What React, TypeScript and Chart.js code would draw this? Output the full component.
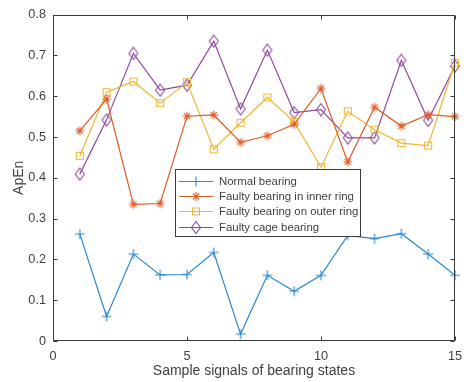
import React, { useEffect, useRef } from 'react';
import { Chart, registerables } from 'chart.js';

Chart.register(...registerables);

// ---- data ----
const samples = [1, 2, 3, 4, 5, 6, 7, 8, 9, 10, 11, 12, 13, 14, 15];
const normalBearing = [0.262, 0.06, 0.213, 0.162, 0.163, 0.217, 0.017, 0.161, 0.122, 0.161, 0.259, 0.251, 0.263, 0.213, 0.161];
const innerRing = [0.515, 0.593, 0.335, 0.337, 0.551, 0.554, 0.487, 0.503, 0.531, 0.619, 0.439, 0.573, 0.527, 0.555, 0.550];
const outerRing = [0.454, 0.610, 0.636, 0.583, 0.634, 0.470, 0.535, 0.597, 0.537, 0.426, 0.563, 0.518, 0.485, 0.479, 0.682];
const cageBearing = [0.409, 0.542, 0.705, 0.615, 0.627, 0.735, 0.569, 0.713, 0.560, 0.567, 0.498, 0.498, 0.688, 0.541, 0.674];
const seriesNames = ['Normal bearing', 'Faulty bearing in inner ring', 'Faulty bearing on outer ring', 'Faulty cage bearing'];
const xTicks = [0, 5, 10, 15];
const yTicks = [0, 0.1, 0.2, 0.3, 0.4, 0.5, 0.6, 0.7, 0.8];
const xTitle = 'Sample signals of bearing states';
const yTitle = 'ApEn';

const colors = ['#2a88d0', '#de5c28', '#efb630', '#8d4a9e'];
const markers = ['plus', 'star', 'square', 'diamond'];
const FONT = '"Liberation Sans", Arial, Helvetica, sans-serif';
const AX = '#3a3a3a';
const TXT = '#404040';

function drawMarker(ctx: CanvasRenderingContext2D, type: string, x: number, y: number, color: string) {
  ctx.save();
  ctx.strokeStyle = color;
  ctx.lineWidth = 1.1;
  ctx.beginPath();
  if (type === 'plus') {
    ctx.moveTo(x - 5, y); ctx.lineTo(x + 5, y);
    ctx.moveTo(x, y - 5); ctx.lineTo(x, y + 5);
  } else if (type === 'star') {
    const r = 4.5;
    for (let i = 0; i < 4; i++) {
      const a = (i * Math.PI) / 4;
      ctx.moveTo(x - r * Math.cos(a), y - r * Math.sin(a));
      ctx.lineTo(x + r * Math.cos(a), y + r * Math.sin(a));
    }
  } else if (type === 'square') {
    ctx.rect(x - 3.5, y - 3.5, 7, 7);
  } else {
    ctx.moveTo(x, y - 6); ctx.lineTo(x + 4.5, y); ctx.lineTo(x, y + 6); ctx.lineTo(x - 4.5, y); ctx.closePath();
  }
  ctx.stroke();
  ctx.restore();
}

function makeMarkerCanvas(type: string, color: string) {
  const c = document.createElement('canvas');
  c.width = 14; c.height = 14;
  const ctx = c.getContext('2d')!;
  drawMarker(ctx, type, 7, 7, color);
  return c;
}

const frameAndLegend = {
  id: 'frameAndLegend',
  afterDraw(chart: any) {
    const { ctx, chartArea: a, scales } = chart;
    ctx.save();
    ctx.strokeStyle = AX;
    ctx.lineWidth = 1;
    const L = Math.round(a.left) + 0.5, R = Math.round(a.right) - 0.5;
    const T = Math.round(a.top) + 0.5, B = Math.round(a.bottom) - 0.5;
    ctx.strokeRect(L, T, R - L, B - T);
    ctx.beginPath();
    xTicks.forEach((v) => {
      const px = Math.round(scales.x.getPixelForValue(v)) + 0.5;
      ctx.moveTo(px, B); ctx.lineTo(px, B - 4);
      ctx.moveTo(px, T); ctx.lineTo(px, T + 4);
    });
    yTicks.forEach((v) => {
      const py = Math.round(scales.y.getPixelForValue(v)) + 0.5;
      ctx.moveTo(L, py); ctx.lineTo(L + 4, py);
      ctx.moveTo(R, py); ctx.lineTo(R - 4, py);
    });
    ctx.stroke();

    // legend box
    const bx = 175.5, by = 169.5, bw = 185, bh = 67;
    ctx.fillStyle = '#ffffff';
    ctx.fillRect(bx, by, bw, bh);
    ctx.strokeStyle = AX;
    ctx.strokeRect(bx, by, bw, bh);
    ctx.font = `11.4px ${FONT}`;
    ctx.textBaseline = 'middle';
    ctx.textAlign = 'left';
    seriesNames.forEach((name, i) => {
      const ry = Math.round(180.5 + i * 15.4) + 0.5;
      ctx.strokeStyle = colors[i];
      ctx.lineWidth = 1.2;
      ctx.beginPath();
      ctx.moveTo(179, ry); ctx.lineTo(213, ry);
      ctx.stroke();
      drawMarker(ctx, markers[i], 196, ry, colors[i]);
      ctx.fillStyle = TXT;
      ctx.fillText(name, 219, ry);
    });
    ctx.restore();
  },
};

export default function App() {
  const ref = useRef<HTMLCanvasElement | null>(null);
  useEffect(() => {
    if (!ref.current) return;
    const seriesData = [normalBearing, innerRing, outerRing, cageBearing];
    const chart = new Chart(ref.current, {
      type: 'line',
      data: {
        datasets: seriesData.map((vals, i) => ({
          label: seriesNames[i],
          data: samples.map((s, j) => ({ x: s, y: vals[j] })),
          borderColor: colors[i],
          backgroundColor: colors[i],
          borderWidth: 1.2,
          pointStyle: makeMarkerCanvas(markers[i], colors[i]) as any,
          pointRadius: 5,
          pointHoverRadius: 5,
          tension: 0,
          clip: false as any,
        })),
      },
      options: {
        animation: false,
        responsive: false,
        maintainAspectRatio: false,
        layout: { padding: { top: 13, right: 9, left: 0, bottom: 0 } },
        plugins: { legend: { display: false }, tooltip: { enabled: false } },
        scales: {
          x: {
            type: 'linear',
            min: 0,
            max: 15,
            afterBuildTicks: (s: any) => { s.ticks = xTicks.map((v) => ({ value: v })); },
            afterFit: (s: any) => { s.height = 41; },
            grid: { display: false, drawTicks: false },
            border: { display: false },
            ticks: { color: TXT, font: { family: FONT, size: 12.7 }, padding: 8, maxRotation: 0, callback: (v: any) => String(v) },
            title: { display: true, text: xTitle, color: TXT, font: { family: FONT, size: 14 }, padding: { top: 0, bottom: 2 } },
          },
          y: {
            type: 'linear',
            min: 0,
            max: 0.8,
            afterBuildTicks: (s: any) => { s.ticks = yTicks.map((v) => ({ value: v })); },
            afterFit: (s: any) => { s.width = 53; },
            grid: { display: false, drawTicks: false },
            border: { display: false },
            ticks: { color: TXT, font: { family: FONT, size: 12.7 }, padding: 7, callback: (v: any) => (v === 0 ? '0' : Number(v).toFixed(1)) },
            title: { display: true, text: yTitle, color: TXT, font: { family: FONT, size: 14 }, padding: { top: 11, bottom: 0 } },
          },
        },
      },
      plugins: [frameAndLegend],
    });
    return () => chart.destroy();
  }, []);
  return (
    <div style={{ position: 'fixed', left: 0, top: 0, width: 470, height: 382, background: '#fff' }}>
      <canvas ref={ref} width={470} height={382} style={{ width: 470, height: 382 }} />
    </div>
  );
}
